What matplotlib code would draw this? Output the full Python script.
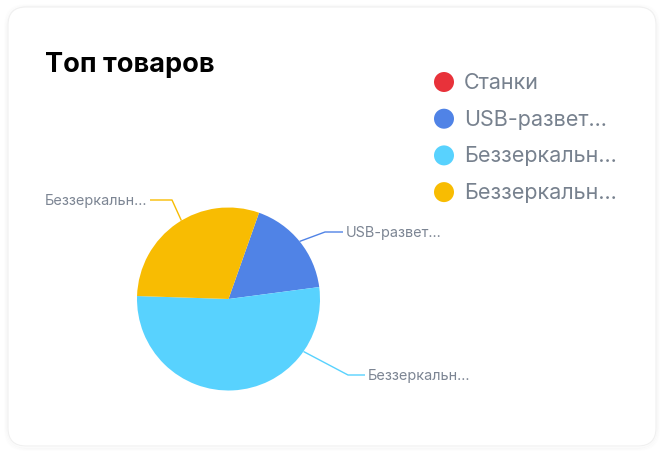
import matplotlib
matplotlib.use("Agg")
import matplotlib.pyplot as plt
from matplotlib.patches import FancyBboxPatch, Circle
import numpy as np

plt.rcParams['font.family'] = ['Inter', 'DejaVu Sans']

title = "Топ товаров"
categories = ["Станки", "USB-развет...", "Беззеркальн...", "Беззеркальн..."]
values = [0.0, 17.5, 52.6, 29.9]
colors = ["#E8323A", "#5083E6", "#58D2FE", "#F8BC02"]
show_label = [False, True, True, True]

W, H = 664, 456
fig = plt.figure(figsize=(W / 100, H / 100), dpi=100)
fig.patch.set_facecolor("white")
ax = fig.add_axes([0, 0, 1, 1])
ax.set_xlim(0, W)
ax.set_ylim(0, H)
ax.set_aspect("equal")
ax.axis("off")

def Y(py):
    return H - py

# card with soft shadow
for i, a in enumerate([0.018, 0.012, 0.008]):
    d = 1.0 + i
    sh = FancyBboxPatch((8 - d, Y(447) - d - 1), 648 + 2 * d, 439 + 2 * d,
                        boxstyle="round,pad=0,rounding_size=20",
                        facecolor="none", edgecolor=(0, 0, 0, a), linewidth=1.2)
    ax.add_patch(sh)
card = FancyBboxPatch((8, Y(447)), 648, 439, boxstyle="round,pad=0,rounding_size=18",
                      facecolor="white", edgecolor="#F0F0F0", linewidth=0.8)
ax.add_patch(card)

ax.text(45, Y(72), title, fontsize=19.5, fontweight="bold", color="#000000",
        ha="left", va="baseline")

# pie
cx, cy, r = 228.5, Y(300), 91.5
start_cw_from_top = 19.5
wedges, _ = ax.pie(values, colors=colors, radius=r, center=(cx, cy),
                   startangle=90 - start_cw_from_top, counterclock=False,
                   wedgeprops=dict(linewidth=0))
ax.set_xlim(0, W)
ax.set_ylim(0, H)

# label anchors (style): angle on rim (clockwise from top), elbow and text positions
label_style = {
    1: dict(ang=51, elbow=(325, 233), end=(343, 233), text=(346, 233), ha="left"),
    2: dict(ang=125, elbow=(348, 376), end=(365, 376), text=(368, 376), ha="left"),
    3: dict(ang=329, elbow=(172, 201), end=(150, 201), text=(147, 201), ha="right"),
}
for i, st in label_style.items():
    if not show_label[i]:
        continue
    a = np.deg2rad(st["ang"])
    sx, sy = cx + r * np.sin(a), cy + r * np.cos(a)
    ex, ey = st["elbow"]
    tx, ty = st["end"]
    ax.plot([sx, ex, tx], [sy, Y(ey), Y(ty)], color=colors[i], lw=1.0,
            solid_capstyle="butt")
    ax.text(st["text"][0], Y(st["text"][1]), categories[i], fontsize=10.4,
            color="#7C8593", ha=st["ha"], va="center")

# legend
leg_x, leg_y0, leg_dy = 444, 83, 36.7
for i, (c, lab) in enumerate(zip(colors, categories)):
    y = Y(leg_y0 + i * leg_dy)
    ax.add_patch(Circle((leg_x, y), 10, facecolor=c, edgecolor="none"))
    ax.text(leg_x + 20, y, lab, fontsize=15.5, color="#77818E", ha="left", va="center")

fig.savefig("out.png", dpi=100, facecolor="white")
